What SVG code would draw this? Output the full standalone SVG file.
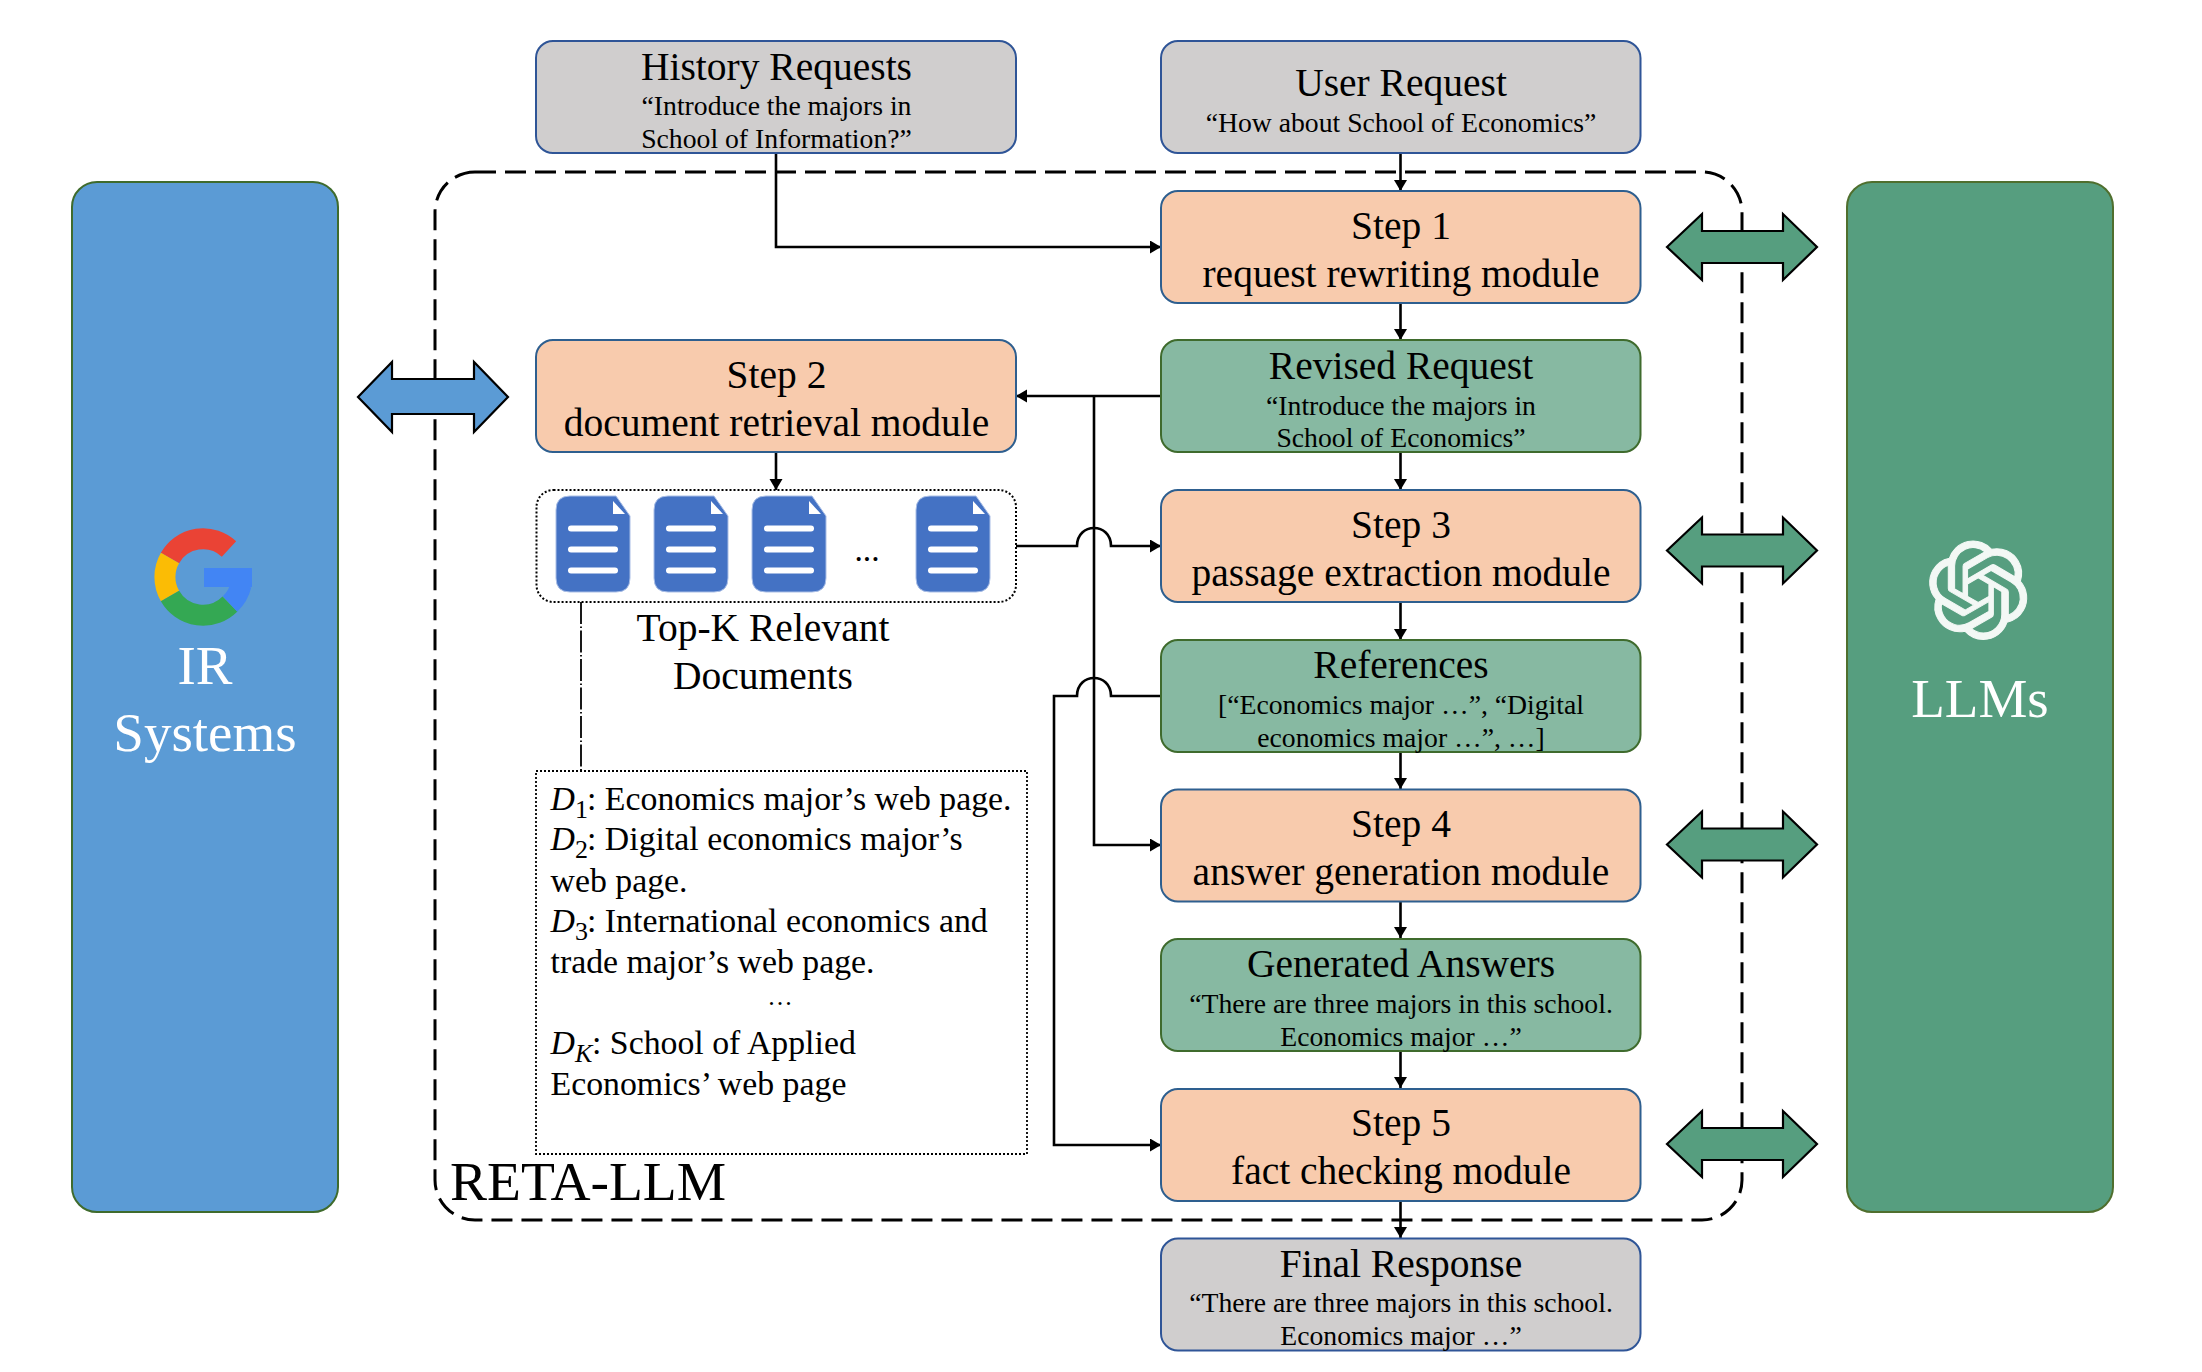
<svg xmlns="http://www.w3.org/2000/svg" xmlns:xlink="http://www.w3.org/1999/xlink" width="2202" height="1372" viewBox="0 0 2202 1372">
<style>
text{font-family:"Liberation Serif","Times New Roman",serif;fill:#000}
.t{font-size:39.5px;text-anchor:middle}
.s{font-size:27.7px;text-anchor:middle}
.w{font-size:55px;text-anchor:middle;fill:#fff}
.d{font-size:33.8px}
.i{font-style:italic}
.u{font-size:26px}
.box{stroke-width:2}
.or{fill:#F8CBAD;stroke:#2E5F8F}
.gr{fill:#87B9A2;stroke:#3F6B2D}
.gy{fill:#D0CECE;stroke:#2F5597}
.c{fill:none;stroke:#000;stroke-width:2.6}
.ar{marker-end:url(#a)}
.dbl{stroke:#000;stroke-width:2.2;stroke-linejoin:miter}
.bar{fill:#fff}
</style>
<defs>
<marker id="a" markerUnits="userSpaceOnUse" markerWidth="12" markerHeight="14" refX="11" refY="6.5" orient="auto"><path d="M0,0L11,6.5L0,13Z" fill="#000"/></marker>
<g id="doc">
<path d="M14,0H60L74,20V82Q74,96 60,96H14Q0,96 0,82V14Q0,0 14,0Z" fill="#4472C4" stroke="#A9BEE6" stroke-width="1"/>
<path d="M57,5L69,18H57Z" fill="#fff"/>
<rect class="bar" x="12" y="29.5" width="50" height="6" rx="3"/>
<rect class="bar" x="12" y="50.5" width="50" height="6" rx="3"/>
<rect class="bar" x="12" y="71.5" width="50" height="6" rx="3"/>
</g>
<path id="dblg" d="M0,33L35,0V17H116V0L150,33L116,66V49H35V66Z"/>
</defs>
<rect width="2202" height="1372" fill="#fff"/>

<g id="node-ir">
<rect x="72" y="182" width="266" height="1030" rx="25" fill="#5B9BD5" stroke="#3F6B2D" stroke-width="2"/>
<g fill="none" stroke-width="21">
<path d="M229,549A38,38 0 0 0 170,558" stroke="#EA4335"/>
<path d="M170,558A38,38 0 0 0 170,596" stroke="#FBBC05"/>
<path d="M170,596A38,38 0 0 0 230,604" stroke="#34A853"/>
<path d="M230,604A38,38 0 0 0 241,585" stroke="#4285F4"/>
</g>
<rect x="204" y="568" width="48" height="19" fill="#4285F4"/>
<text class="w" x="205" y="684">IR</text>
<text class="w" x="205" y="751">Systems</text>
</g>

<g id="node-llm">
<rect x="1847" y="182" width="266" height="1030" rx="25" fill="#569E7F" stroke="#4F6F2E" stroke-width="2"/>
<path transform="translate(1929,541) scale(4.1)" fill="#F3F8F5" stroke="#F3F8F5" stroke-width=".25" d="M22.2819 9.8211a5.9847 5.9847 0 0 0-.5157-4.9108 6.0462 6.0462 0 0 0-6.5098-2.9A6.0651 6.0651 0 0 0 4.9807 4.1818a5.9847 5.9847 0 0 0-3.9977 2.9 6.0462 6.0462 0 0 0 .7427 7.0966 5.98 5.98 0 0 0 .511 4.9107 6.051 6.051 0 0 0 6.5146 2.9001A5.9847 5.9847 0 0 0 13.2599 24a6.0557 6.0557 0 0 0 5.7718-4.2058 5.9894 5.9894 0 0 0 3.9977-2.9001 6.0557 6.0557 0 0 0-.7475-7.0729zm-9.022 12.6081a4.4755 4.4755 0 0 1-2.8764-1.0408l.1419-.0804 4.7783-2.7582a.7948.7948 0 0 0 .3927-.6813v-6.7369l2.02 1.1686a.071.071 0 0 1 .038.052v5.5826a4.504 4.504 0 0 1-4.4945 4.4944zm-9.6607-4.1254a4.4708 4.4708 0 0 1-.5346-3.0137l.142.0852 4.783 2.7582a.7712.7712 0 0 0 .7806 0l5.8428-3.3685v2.3324a.0804.0804 0 0 1-.0332.0615L9.74 19.9502a4.4992 4.4992 0 0 1-6.1408-1.6464zM2.3408 7.8956a4.485 4.485 0 0 1 2.3655-1.9728V11.6a.7664.7664 0 0 0 .3879.6765l5.8144 3.3543-2.0201 1.1685a.0757.0757 0 0 1-.071 0l-4.8303-2.7865A4.504 4.504 0 0 1 2.3408 7.872zm16.5963 3.8558L13.1038 8.364 15.1192 7.2a.0757.0757 0 0 1 .071 0l4.8303 2.7913a4.4944 4.4944 0 0 1-.6765 8.1042v-5.6772a.79.79 0 0 0-.407-.667zm2.0107-3.0231l-.142-.0852-4.7735-2.7818a.7759.7759 0 0 0-.7854 0L9.409 9.2297V6.8974a.0662.0662 0 0 1 .0284-.0615l4.8303-2.7866a4.4992 4.4992 0 0 1 6.6802 4.66zM8.3065 12.863l-2.02-1.1638a.0804.0804 0 0 1-.038-.0567V6.0742a4.4992 4.4992 0 0 1 7.3757-3.4537l-.142.0805L8.704 5.459a.7948.7948 0 0 0-.3927.6813zm1.0976-2.3654l2.602-1.4998 2.6069 1.4998v2.9994l-2.5974 1.4997-2.6067-1.4997Z"/>
<text class="w" x="1980" y="717">LLMs</text>
</g>

<g id="node-container">
<rect x="435" y="172" width="1307" height="1048" rx="40" fill="none" stroke="#000" stroke-width="3" stroke-dasharray="21 9"/>
<text x="450" y="1200" font-size="55.5">RETA-LLM</text>
</g>

<g id="connectors">
<path class="c ar" d="M1400.500,153V191"/>
<path class="c ar" d="M776,153V247H1161"/>
<path class="c ar" d="M1400.500,303V340"/>
<path class="c ar" d="M1400.500,452V490"/>
<path class="c ar" d="M1400.500,602V640"/>
<path class="c ar" d="M1400.500,752V789"/>
<path class="c ar" d="M1400.500,901V938"/>
<path class="c ar" d="M1400.500,1050V1088"/>
<path class="c ar" d="M1400.500,1200V1238"/>
<path class="c ar" d="M1161,396H1016"/>
<path class="c ar" d="M1094,396V845H1161"/>
<path class="c ar" d="M776,452V490"/>
<path class="c ar" d="M1016,546H1077C1077,522 1111,522 1111,546H1161"/>
<path class="c ar" d="M1161,696H1111C1111,672 1077,672 1077,696H1054V1145H1161"/>
<path d="M581,602V771" fill="none" stroke="#000" stroke-width="1.8" stroke-dasharray="22 2.5 1.5 2.5"/>
</g>

<g id="node-arrow-ir"><path d="M358,397L392,362V379H474V362L508,397L474,432V414H392V432Z" fill="#5B9BD5" class="dbl"/></g>
<g id="node-arrow-llm1"><use xlink:href="#dblg" href="#dblg" x="1667" y="214" fill="#569E7F" class="dbl"/></g>
<g id="node-arrow-llm3"><use xlink:href="#dblg" href="#dblg" x="1667" y="517.500" fill="#569E7F" class="dbl"/></g>
<g id="node-arrow-llm4"><use xlink:href="#dblg" href="#dblg" x="1667" y="811.500" fill="#569E7F" class="dbl"/></g>
<g id="node-arrow-llm5"><use xlink:href="#dblg" href="#dblg" x="1667" y="1111" fill="#569E7F" class="dbl"/></g>

<g id="node-history">
<rect class="box gy" x="536" y="41" width="480" height="112" rx="17"/>
<text class="t" x="776.500" y="80">History Requests</text>
<text class="s" x="776.500" y="115">“Introduce the majors in</text>
<text class="s" x="776.500" y="148">School of Information?”</text>
</g>
<g id="node-user">
<rect class="box gy" x="1161" y="41" width="479.500" height="112" rx="17"/>
<text class="t" x="1401" y="96">User Request</text>
<text class="s" x="1401" y="132">“How about School of Economics”</text>
</g>
<g id="node-step1">
<rect class="box or" x="1161" y="191" width="479.500" height="112" rx="17"/>
<text class="t" x="1401" y="239">Step 1</text>
<text class="t" x="1401" y="287">request rewriting module</text>
</g>
<g id="node-step2">
<rect class="box or" x="536" y="340" width="480" height="112" rx="17"/>
<text class="t" x="776.500" y="388">Step 2</text>
<text class="t" x="776.500" y="436">document retrieval module</text>
</g>
<g id="node-revised">
<rect class="box gr" x="1161" y="340" width="479.500" height="112" rx="17"/>
<text class="t" x="1401" y="379">Revised Request</text>
<text class="s" x="1401" y="415">“Introduce the majors in</text>
<text class="s" x="1401" y="447">School of Economics”</text>
</g>
<g id="node-docs">
<rect x="536.500" y="490" width="479.500" height="112" rx="17" fill="#fff" stroke="#000" stroke-width="2" stroke-dasharray="2 2"/>
<use xlink:href="#doc" href="#doc" x="556" y="496"/>
<use xlink:href="#doc" href="#doc" x="654" y="496"/>
<use xlink:href="#doc" href="#doc" x="752" y="496"/>
<use xlink:href="#doc" href="#doc" x="916" y="496"/>
<text x="867" y="561" font-size="33.5" text-anchor="middle">...</text>
</g>
<g id="node-topk">
<text class="t" x="763" y="641">Top-K Relevant</text>
<text class="t" x="763" y="689">Documents</text>
</g>
<g id="node-step3">
<rect class="box or" x="1161" y="490" width="479.500" height="112" rx="17"/>
<text class="t" x="1401" y="538">Step 3</text>
<text class="t" x="1401" y="586">passage extraction module</text>
</g>
<g id="node-references">
<rect class="box gr" x="1161" y="640" width="479.500" height="112" rx="17"/>
<text class="t" x="1401" y="678">References</text>
<text class="s" x="1401" y="714">[“Economics major …”, “Digital</text>
<text class="s" x="1401" y="747">economics major …”, …]</text>
</g>
<g id="node-step4">
<rect class="box or" x="1161" y="789.500" width="479.500" height="112" rx="17"/>
<text class="t" x="1401" y="837">Step 4</text>
<text class="t" x="1401" y="885">answer generation module</text>
</g>
<g id="node-generated">
<rect class="box gr" x="1161" y="939" width="479.500" height="112" rx="17"/>
<text class="t" x="1401" y="977">Generated Answers</text>
<text class="s" x="1401" y="1013">“There are three majors in this school.</text>
<text class="s" x="1401" y="1046">Economics major …”</text>
</g>
<g id="node-step5">
<rect class="box or" x="1161" y="1089" width="479.500" height="112" rx="17"/>
<text class="t" x="1401" y="1136">Step 5</text>
<text class="t" x="1401" y="1184">fact checking module</text>
</g>
<g id="node-final">
<rect class="box gy" x="1161" y="1238.500" width="479.500" height="112" rx="17"/>
<text class="t" x="1401" y="1277">Final Response</text>
<text class="s" x="1401" y="1312">“There are three majors in this school.</text>
<text class="s" x="1401" y="1345">Economics major …”</text>
</g>

<g id="node-doclist">
<rect x="536" y="771" width="491" height="383" fill="#fff" stroke="#000" stroke-width="1.8" stroke-dasharray="2 2"/>
<text class="d" x="550.500" y="810"><tspan class="i">D</tspan><tspan class="u" dy="8">1</tspan><tspan dy="-8" x="587">: Economics major’s web page.</tspan></text>
<text class="d" x="550.500" y="850"><tspan class="i">D</tspan><tspan class="u" dy="8">2</tspan><tspan dy="-8" x="587">: Digital economics major’s</tspan></text>
<text class="d" x="550.500" y="892">web page.</text>
<text class="d" x="550.500" y="932"><tspan class="i">D</tspan><tspan class="u" dy="8">3</tspan><tspan dy="-8" x="587">: International economics and</tspan></text>
<text class="d" x="550.500" y="973">trade major’s web page.</text>
<text x="781" y="1005" font-size="26" letter-spacing="2" text-anchor="middle">...</text>
<text class="d" x="550.500" y="1054"><tspan class="i">D</tspan><tspan class="u i" dy="8">K</tspan><tspan dy="-8" x="592">: School of Applied</tspan></text>
<text class="d" x="550.500" y="1095">Economics’ web page</text>
</g>
</svg>
